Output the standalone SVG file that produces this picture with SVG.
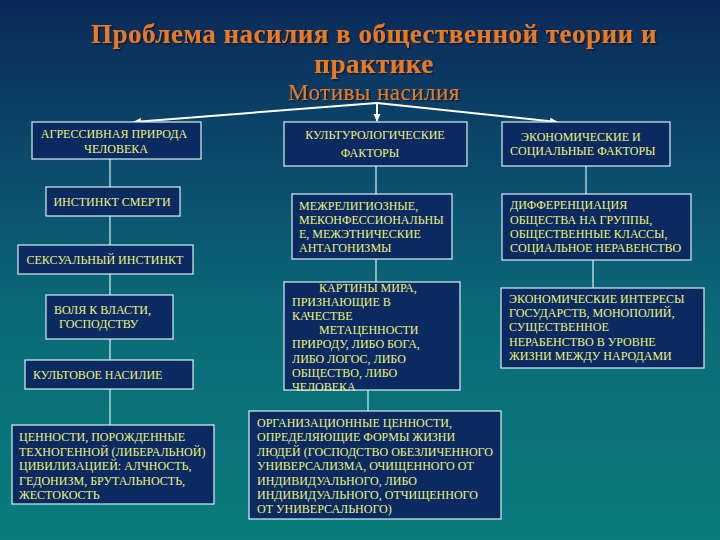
<svg xmlns="http://www.w3.org/2000/svg" width="720" height="540" viewBox="0 0 720 540">
<defs>
<linearGradient id="bg" x1="0" y1="0" x2="0" y2="1">
<stop offset="0" stop-color="#0a2958"/>
<stop offset="0.3" stop-color="#0c4a6c"/>
<stop offset="0.6" stop-color="#0b6b78"/>
<stop offset="1" stop-color="#0a7c7c"/>
</linearGradient>
<marker id="ah" markerWidth="8" markerHeight="8" refX="7" refY="4" orient="auto" markerUnits="userSpaceOnUse">
<path d="M0,0.5 L8,4 L0,7.5 Z" fill="#ffffff"/>
</marker>
<filter id="sh" x="-5%" y="-20%" width="110%" height="140%">
<feDropShadow dx="1.5" dy="1.5" stdDeviation="0.6" flood-color="#061830" flood-opacity="0.8"/>
</filter>
</defs>
<style>
.box{fill:#0b2a62;stroke:#d6f2f2;stroke-width:1.2}
.t{font-family:"Liberation Serif","Times New Roman",serif;font-size:12px;fill:#eef27a}
.c{text-anchor:middle}
.ln{stroke:#d6f2f2;stroke-width:1.2;fill:none}
.ar{stroke:#ffffff;stroke-width:2;fill:none}
.title{font-family:"Liberation Serif","Times New Roman",serif;font-weight:bold;font-size:27px;letter-spacing:0.5px;fill:#ea7a24;text-anchor:middle}
.sub{font-family:"Liberation Serif","Times New Roman",serif;font-size:23px;letter-spacing:0.5px;fill:#ea7a24;text-anchor:middle}
</style>
<rect width="720" height="540" fill="url(#bg)"/>

<g id="title" filter="url(#sh)">
<text class="title" x="374" y="43">Проблема насилия в общественной теории и</text>
<text class="title" x="374" y="73">практике</text>
<text class="sub" x="374" y="100">Мотивы насилия</text>
</g>

<g id="connectors">
<line class="ar" x1="377" y1="103" x2="134" y2="122" marker-end="url(#ah)"/>
<line class="ar" x1="377" y1="103" x2="377" y2="121" marker-end="url(#ah)"/>
<line class="ar" x1="377" y1="103" x2="557" y2="122" marker-end="url(#ah)"/>
<line class="ln" x1="110" y1="159" x2="110" y2="425"/>
<line class="ln" x1="376" y1="166" x2="376" y2="194"/>
<line class="ln" x1="376" y1="259" x2="376" y2="282"/>
<line class="ln" x1="368" y1="390" x2="368" y2="411"/>
<line class="ln" x1="586" y1="166" x2="586" y2="194"/>
<line class="ln" x1="593" y1="260" x2="593" y2="288"/>
</g>

<g id="n-aggr">
<rect class="box" x="32" y="122" width="169" height="37"/>
<text class="t c" x="114" y="138">АГРЕССИВНАЯ ПРИРОДА</text>
<text class="t c" x="116" y="153">ЧЕЛОВЕКА</text>
</g>
<g id="n-death">
<rect class="box" x="46" y="187" width="134" height="29"/>
<text class="t c" x="112" y="206">ИНСТИНКТ СМЕРТИ</text>
</g>
<g id="n-sex">
<rect class="box" x="18" y="245" width="175" height="29"/>
<text class="t c" x="105" y="264">СЕКСУАЛЬНЫЙ ИНСТИНКТ</text>
</g>
<g id="n-power">
<rect class="box" x="46" y="295" width="127" height="44"/>
<text class="t" x="54" y="314">ВОЛЯ К ВЛАСТИ,</text>
<text class="t" x="59" y="328">ГОСПОДСТВУ</text>
</g>
<g id="n-cult">
<rect class="box" x="25" y="360" width="168" height="29"/>
<text class="t" x="33" y="379">КУЛЬТОВОЕ НАСИЛИЕ</text>
</g>
<g id="n-values">
<rect class="box" x="12" y="425" width="202" height="79"/>
<text class="t" x="19" y="441">ЦЕННОСТИ, ПОРОЖДЕННЫЕ</text>
<text class="t" x="19" y="455.5">ТЕХНОГЕННОЙ (ЛИБЕРАЛЬНОЙ)</text>
<text class="t" x="19" y="470">ЦИВИЛИЗАЦИЕЙ: АЛЧНОСТЬ,</text>
<text class="t" x="19" y="484.5">ГЕДОНИЗМ, БРУТАЛЬНОСТЬ,</text>
<text class="t" x="19" y="499">ЖЕСТОКОСТЬ</text>
</g>

<g id="n-culturol">
<rect class="box" x="284" y="122" width="183" height="44"/>
<text class="t c" x="375" y="139">КУЛЬТУРОЛОГИЧЕСКИЕ</text>
<text class="t c" x="370" y="157">ФАКТОРЫ</text>
</g>
<g id="n-interrel">
<rect class="box" x="292" y="194" width="160" height="65"/>
<text class="t" x="299" y="210">МЕЖРЕЛИГИОЗНЫЕ,</text>
<text class="t" x="299" y="224">МЕКОНФЕССИОНАЛЬНЫ</text>
<text class="t" x="299" y="238">Е, МЕЖЭТНИЧЕСКИЕ</text>
<text class="t" x="299" y="252">АНТАГОНИЗМЫ</text>
</g>
<g id="n-world">
<rect class="box" x="284" y="282" width="176" height="108"/>
<text class="t" x="319" y="292">КАРТИНЫ МИРА,</text>
<text class="t" x="292" y="306">ПРИЗНАЮЩИЕ В</text>
<text class="t" x="292" y="320">КАЧЕСТВЕ</text>
<text class="t" x="319" y="334">МЕТАЦЕННОСТИ</text>
<text class="t" x="292" y="348">ПРИРОДУ, ЛИБО БОГА,</text>
<text class="t" x="292" y="362.5">ЛИБО ЛОГОС, ЛИБО</text>
<text class="t" x="292" y="377">ОБЩЕСТВО, ЛИБО</text>
<text class="t" x="292" y="391">ЧЕЛОВЕКА</text>
</g>
<g id="n-org">
<rect class="box" x="249" y="411" width="252" height="108"/>
<text class="t" x="257" y="427">ОРГАНИЗАЦИОННЫЕ ЦЕННОСТИ,</text>
<text class="t" x="257" y="441">ОПРЕДЕЛЯЮЩИЕ ФОРМЫ ЖИЗНИ</text>
<text class="t" x="257" y="456">ЛЮДЕЙ (ГОСПОДСТВО ОБЕЗЛИЧЕННОГО</text>
<text class="t" x="257" y="470">УНИВЕРСАЛИЗМА, ОЧИЩЕННОГО ОТ</text>
<text class="t" x="257" y="484.5">ИНДИВИДУАЛЬНОГО, ЛИБО</text>
<text class="t" x="257" y="499">ИНДИВИДУАЛЬНОГО, ОТЧИЩЕННОГО</text>
<text class="t" x="257" y="513">ОТ УНИВЕРСАЛЬНОГО)</text>
</g>

<g id="n-econ">
<rect class="box" x="502" y="122" width="168" height="44"/>
<text class="t" x="521" y="141">ЭКОНОМИЧЕСКИЕ И</text>
<text class="t" x="510" y="155">СОЦИАЛЬНЫЕ ФАКТОРЫ</text>
</g>
<g id="n-diff">
<rect class="box" x="502" y="194" width="189" height="66"/>
<text class="t" x="510" y="209">ДИФФЕРЕНЦИАЦИЯ</text>
<text class="t" x="510" y="223.5">ОБЩЕСТВА НА ГРУППЫ,</text>
<text class="t" x="510" y="238">ОБЩЕСТВЕННЫЕ КЛАССЫ,</text>
<text class="t" x="510" y="252">СОЦИАЛЬНОЕ НЕРАВЕНСТВО</text>
</g>
<g id="n-interests">
<rect class="box" x="501" y="288" width="203" height="80"/>
<text class="t" x="509" y="303">ЭКОНОМИЧЕСКИЕ ИНТЕРЕСЫ</text>
<text class="t" x="509" y="317">ГОСУДАРСТВ, МОНОПОЛИЙ,</text>
<text class="t" x="509" y="331">СУЩЕСТВЕННОЕ</text>
<text class="t" x="509" y="345.5">НЕРАБЕНСТВО В УРОВНЕ</text>
<text class="t" x="509" y="360">ЖИЗНИ МЕЖДУ НАРОДАМИ</text>
</g>
</svg>
